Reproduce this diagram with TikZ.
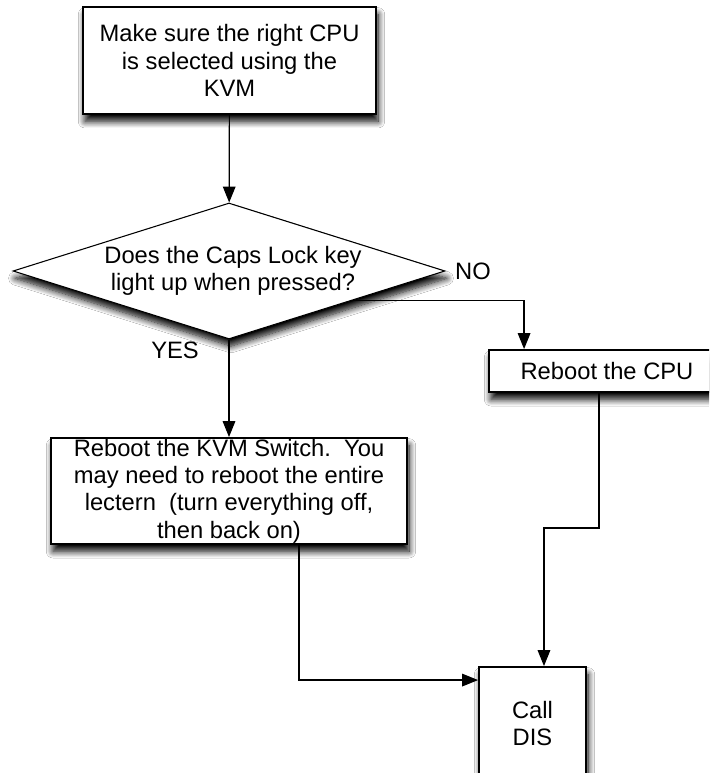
\documentclass[tikz,border=0pt]{standalone}
\usepackage{fontspec}
\setmainfont{Liberation Sans}
\usetikzlibrary{calc,arrows.meta,positioning,shapes.geometric,shadows.blur}

\begin{document}
\begin{tikzpicture}[x=0.75pt,y=-0.75pt,>={Triangle[length=12pt,width=9.5pt]},inner sep=0pt]
      % Styles
      \tikzset{procbox/.style={draw,line width=1.4pt,fill=white,align=center,
                 font=\fontsize{17.8}{20.5}\selectfont,
                 blur shadow={shadow xshift=1.5pt,shadow yshift=-5.5pt,shadow blur radius=5pt,shadow opacity=100,shadow blur steps=10}},
               query/.style={procbox,diamond,shape aspect=3.2,line width=0.8pt},
               answer/.style={font=\fontsize{17.8}{20.5}\selectfont},
               flow/.style={->,line width=0.9pt}}

      % canvas
      \useasboundingbox (0,0) rectangle (709,773);
      \clip (0,0) rectangle (709,773);
      \fill[white] (0,0) rectangle (709,773);

      % boxes
      \node[procbox,minimum width=219.75pt,minimum height=80.25pt] (make) at (229.5,60.5)
        {Make sure the right CPU\\is selected using the\\KVM};
      \node[query,minimum width=324pt,minimum height=102pt] (caps) at (229,271)
        {\hspace*{6pt}Does the Caps Lock key\\\hspace*{6pt}light up when pressed?};
      \node[procbox,minimum width=177pt,minimum height=31.5pt] (rebootcpu) at (607,371) {Reboot the CPU};
      \node[procbox,minimum width=267pt,minimum height=79.5pt] (rebootkvm) at (229,491)
        {Reboot the KVM Switch.\ \ You\\may need to reboot the entire\\lectern\ \ (turn everything off,\\then back on)};
      \node[procbox,minimum width=80.25pt,minimum height=84.75pt] (calldis) at (532.5,723.5) {Call\\DIS};

      % answers
      \node[answer] (no) at (473,271) {NO};
      \node[answer] (yes) at (175,350) {YES};

      % connectors
      \coordinate (noout) at ($(caps.east)!0.43!(caps.south)$);
      \draw[flow] (make) -- (caps);
      \draw[flow] (noout) -| ([xshift=27pt]rebootcpu.north west);
      \draw[flow] (caps) -- (rebootkvm);
      \draw[flow] ([xshift=52.5pt]rebootkvm.south) |- ([yshift=-10.5pt]calldis.north west);
      \draw[flow] ([xshift=-6pt]rebootcpu.south) -- ++(0,135) -| ([xshift=8.6pt]calldis.north);
    \end{tikzpicture}
\end{document}
